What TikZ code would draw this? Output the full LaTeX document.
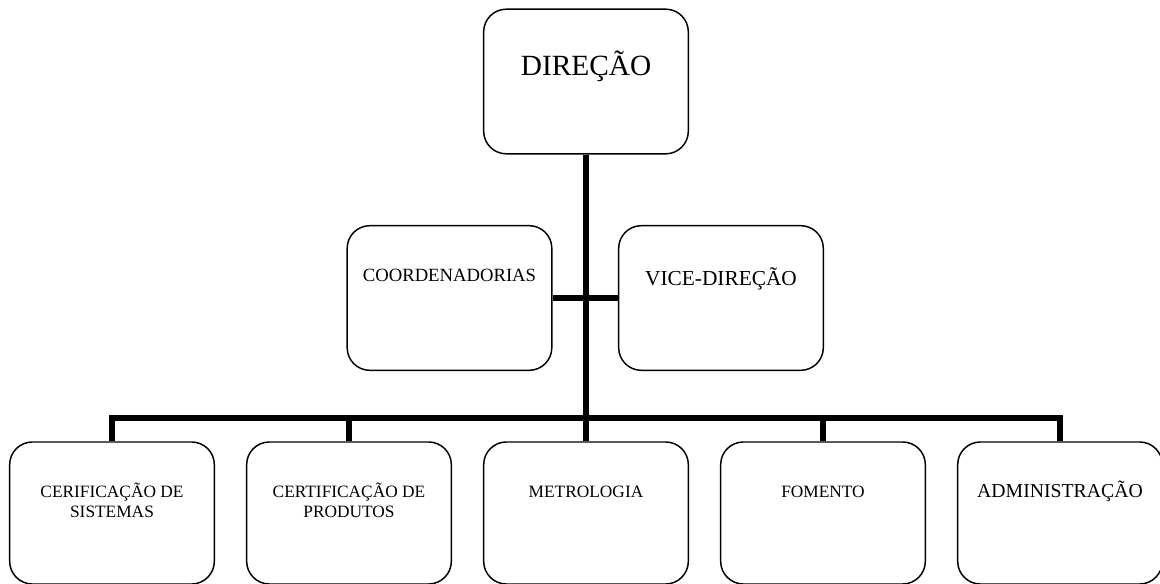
\documentclass[tikz,border=0pt]{standalone}
\usepackage{fontspec}
\setmainfont{Liberation Serif}
\usetikzlibrary{positioning}

\tikzset{
  orgbox/.style={draw, line width=1.1pt, rounded corners=17pt,
    minimum width=153.5pt, minimum height=108.5pt, inner sep=0pt},
  orgtext/.style={anchor=base, align=center, inner sep=0pt},
  orgline/.style={line width=4.5pt},
}

\begin{document}
\begin{tikzpicture}[x=0.75pt,y=-0.75pt]
\def\ybar{418}
\def\ybot{513}
\useasboundingbox (0,0) rectangle (1160,584);
  % top and middle level
  \node[orgbox] (dir) at (586,81.5) {};
  \node[orgtext, font=\fontsize{22}{26}\selectfont] (dirtxt)
    at ([yshift=-50.25pt]dir.north) {DIREÇÃO};
  \node[orgbox] (coord) at (449.5,298) {};
  \node[orgtext, font=\fontsize{14}{16}\selectfont] (coordtxt)
    at ([yshift=-42.75pt]coord.north) {COORDENADORIAS};
  \node[orgbox] (vice) at (721,298) {};
  \node[orgtext, font=\fontsize{16}{18}\selectfont] (vicetxt)
    at ([yshift=-45.75pt]vice.north) {VICE-DIREÇÃO};
  \coordinate (bar) at (586,\ybar);

  % bottom level (base sits on the last line)
  \foreach \n/\x/\fs/\dy/\txt in {cersis/112/13/57/{CERIFICAÇÃO DE\\SISTEMAS},
      cerpro/349/13/57/{CERTIFICAÇÃO DE\\PRODUTOS}, metro/586/13/42/METROLOGIA,
      fomento/823/13/42/FOMENTO, admin/1060/14.8/42.5/ADMINISTRAÇÃO} {
    \node[orgbox, minimum height=106.5pt] (\n) at (\x,\ybot) {};
    \node[orgtext, font=\fontsize{\fs}{15}\selectfont] (\n txt)
      at ([yshift=-\dy pt]\n.north) {\txt};
  }

  % connectors
  \draw[orgline] (dir.south) -- (dir.south |- bar);
  \draw[orgline] (coord.east) -- (vice.west);
  \draw[orgline] (cersis.north) -- (cersis.north |- bar)
    -- (admin.north |- bar) -- (admin.north);
  \foreach \n in {cerpro,metro,fomento}
    \draw[orgline] (\n.north) -- (\n.north |- bar);
\end{tikzpicture}
\end{document}
